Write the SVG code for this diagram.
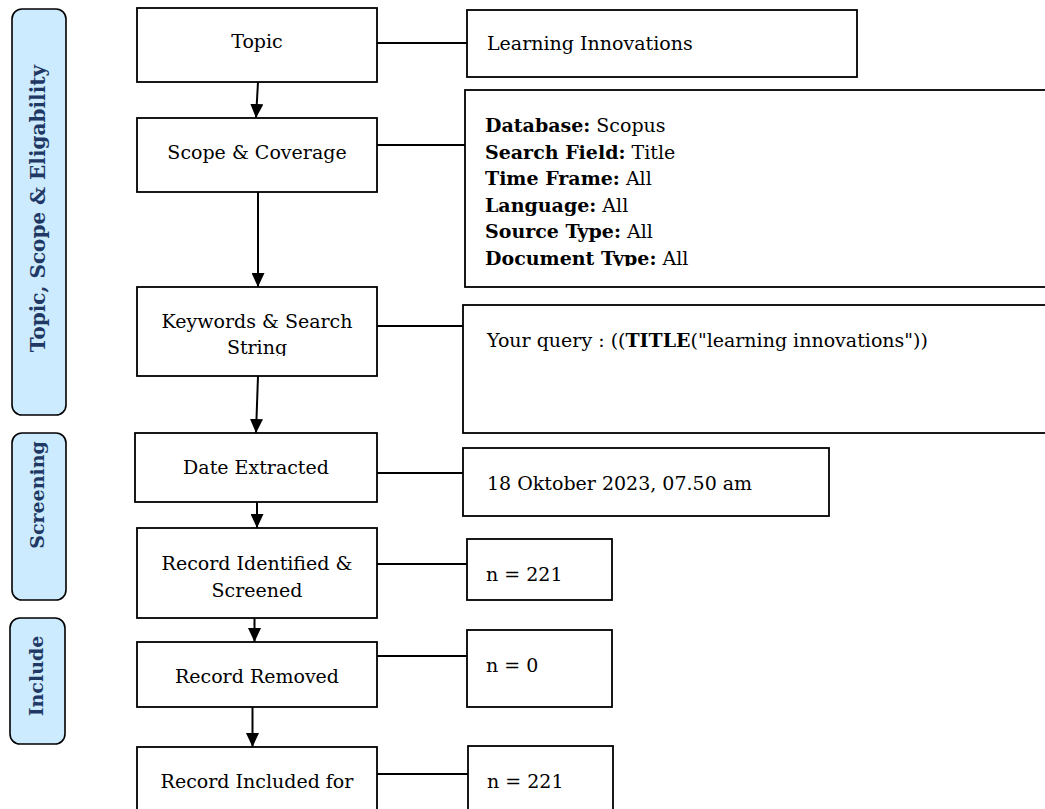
<svg xmlns="http://www.w3.org/2000/svg" width="1045" height="809" viewBox="0 0 1045 809">
<style>
.bg{fill:#fff}
.box{fill:#fff;stroke:#000;stroke-width:1.8}
.bar{fill:#CCEBFF;stroke:#000;stroke-width:1.6}
.t{font-family:"DejaVu Serif","Liberation Serif",serif;font-size:19px;fill:#000}
.c{text-anchor:middle}
.b{font-weight:bold}
.lab{font-family:"DejaVu Serif","Liberation Serif",serif;font-size:19px;font-weight:bold;fill:#1F3864;text-anchor:middle}
.ln{stroke:#000;stroke-width:2;fill:none}
.ar{stroke:#000;stroke-width:2;fill:none;marker-end:url(#ah)}
</style>
<defs>
<marker id="ah" viewBox="0 0 14 13" refX="14" refY="6.5" markerWidth="14" markerHeight="13" markerUnits="userSpaceOnUse" orient="auto">
<path d="M0,0 L14,6.5 L0,13 z" fill="#000"/>
</marker>
<clipPath id="clipKw"><rect x="137" y="287" width="240" height="69"/></clipPath>
<clipPath id="clipDb"><rect x="465" y="90" width="590" height="176"/></clipPath>
</defs>
<rect class="bg" x="0" y="0" width="1045" height="809"/>

<g id="phase-topic">
<rect class="bar" x="12" y="9" width="54" height="406" rx="10"/>
<text class="lab" style="font-size:20px" transform="translate(45,208.5) rotate(-90)">Topic, Scope &amp; Eligability</text>
</g>
<g id="phase-screening">
<rect class="bar" x="12" y="433" width="54" height="167" rx="10"/>
<text class="lab" transform="translate(44,495) rotate(-90)">Screening</text>
</g>
<g id="phase-include">
<rect class="bar" x="10" y="618" width="55" height="126" rx="10"/>
<text class="lab" transform="translate(43,676) rotate(-90)">Include</text>
</g>

<g id="connectors">
<line class="ln" x1="377" y1="43" x2="467" y2="43"/>
<line class="ln" x1="377" y1="145" x2="465" y2="145"/>
<line class="ln" x1="377" y1="326" x2="463" y2="326"/>
<line class="ln" x1="377" y1="473" x2="463" y2="473"/>
<line class="ln" x1="377" y1="564" x2="467" y2="564"/>
<line class="ln" x1="377" y1="656" x2="467" y2="656"/>
<line class="ln" x1="377" y1="774" x2="468" y2="774"/>
<line class="ar" x1="258" y1="82" x2="256" y2="118"/>
<line class="ar" x1="258" y1="192" x2="258" y2="287"/>
<line class="ar" x1="258" y1="376" x2="256" y2="433"/>
<line class="ar" x1="257" y1="502" x2="257" y2="528"/>
<line class="ar" x1="254.5" y1="613" x2="254.5" y2="642"/>
<line class="ar" x1="252.5" y1="696" x2="252.5" y2="747"/>
</g>

<g id="n-topic">
<rect class="box" x="137" y="8" width="240" height="74"/>
<text class="t c" x="257" y="48">Topic</text>
</g>
<g id="n-scope">
<rect class="box" x="137" y="118" width="240" height="74"/>
<text class="t c" x="257" y="159">Scope &amp; Coverage</text>
</g>
<g id="n-keywords">
<rect class="box" x="137" y="287" width="240" height="89"/>
<g clip-path="url(#clipKw)">
<text class="t c" x="257" y="328">Keywords &amp; Search</text>
<text class="t c" x="257" y="354">String</text>
</g>
</g>
<g id="n-date">
<rect class="box" x="135" y="433" width="242" height="69"/>
<text class="t c" x="256" y="474">Date Extracted</text>
</g>
<g id="n-identified">
<rect class="box" x="137" y="528" width="240" height="90"/>
<text class="t c" x="257" y="570">Record Identified &amp;</text>
<text class="t c" x="257" y="597">Screened</text>
</g>
<g id="n-removed">
<rect class="box" x="137" y="642" width="240" height="65"/>
<text class="t c" x="257" y="683">Record Removed</text>
</g>
<g id="n-included">
<rect class="box" x="137" y="747" width="240" height="80"/>
<text class="t c" x="257" y="788">Record Included for</text>
</g>

<g id="r-topic">
<rect class="box" x="467" y="10" width="390" height="67"/>
<text class="t" x="487" y="50">Learning Innovations</text>
</g>
<g id="r-scope">
<rect class="box" x="465" y="90" width="600" height="197"/>
<g clip-path="url(#clipDb)">
<text class="t" x="485" y="132"><tspan class="b">Database:</tspan> Scopus</text>
<text class="t" x="485" y="158.5"><tspan class="b">Search Field:</tspan> Title</text>
<text class="t" x="485" y="185"><tspan class="b">Time Frame:</tspan> All</text>
<text class="t" x="485" y="211.5"><tspan class="b">Language:</tspan> All</text>
<text class="t" x="485" y="238"><tspan class="b">Source Type:</tspan> All</text>
<text class="t" x="485" y="264.5"><tspan class="b">Document Type:</tspan> All</text>
</g>
</g>
<g id="r-keywords">
<rect class="box" x="463" y="305" width="600" height="128"/>
<text class="t" x="487" y="347">Your query : ((<tspan class="b">TITLE</tspan>("learning innovations"))</text>
</g>
<g id="r-date">
<rect class="box" x="463" y="448" width="366" height="68"/>
<text class="t" x="487" y="490">18 Oktober 2023, 07.50 am</text>
</g>
<g id="r-identified">
<rect class="box" x="467" y="539" width="145" height="61"/>
<text class="t" x="486" y="581">n = 221</text>
</g>
<g id="r-removed">
<rect class="box" x="467" y="630" width="145" height="77"/>
<text class="t" x="486" y="672">n = 0</text>
</g>
<g id="r-included">
<rect class="box" x="468" y="746" width="145" height="80"/>
<text class="t" x="487" y="788">n = 221</text>
</g>
</svg>
